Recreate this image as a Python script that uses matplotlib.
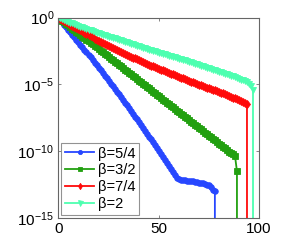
import numpy as np
import matplotlib
matplotlib.use("Agg")
import matplotlib.pyplot as plt

plt.rcParams['font.family'] = ['Liberation Sans', 'DejaVu Sans']
plt.rcParams['mathtext.default'] = 'regular'

labels = ["β=5/4", "β=3/2", "β=7/4", "β=2"]

# log10 of the plotted values, one per iteration; each series ends with a drop to 0
blue_log10 = [0, -0.18, -0.36, -0.54, -0.73, -0.91, -1.09, -1.28, -1.47, -1.65,
              -1.84, -2.03, -2.22, -2.41, -2.60, -2.79, -2.98, -3.18, -3.37, -3.56,
              -3.76, -3.96, -4.15, -4.35, -4.55, -4.75, -4.95, -5.15, -5.35, -5.56,
              -5.76, -5.96, -6.17, -6.38, -6.58, -6.79, -7.00, -7.21, -7.42, -7.63,
              -7.84, -8.05, -8.27, -8.48, -8.69, -8.91, -9.13, -9.34, -9.56, -9.78,
              -10.00, -10.22, -10.44, -10.66, -10.89, -11.11, -11.33, -11.56, -11.79, -12.05,
              -12.12, -12.15, -12.17, -12.19, -12.21, -12.23, -12.25, -12.27, -12.30, -12.32,
              -12.35, -12.38, -12.41, -12.45, -12.50, -12.56, -12.65, -12.90, -13.00]
green_log10 = [0, -0.12, -0.24, -0.35, -0.47, -0.59, -0.71, -0.83, -0.94, -1.06,
               -1.18, -1.30, -1.42, -1.53, -1.65, -1.77, -1.89, -2.01, -2.12, -2.24,
               -2.36, -2.48, -2.60, -2.71, -2.83, -2.95, -3.07, -3.19, -3.30, -3.42,
               -3.54, -3.66, -3.78, -3.89, -4.01, -4.13, -4.25, -4.37, -4.48, -4.60,
               -4.72, -4.84, -4.96, -5.07, -5.19, -5.31, -5.43, -5.55, -5.66, -5.78,
               -5.90, -6.02, -6.14, -6.25, -6.37, -6.49, -6.61, -6.73, -6.84, -6.96,
               -7.08, -7.20, -7.32, -7.43, -7.55, -7.67, -7.79, -7.91, -8.02, -8.14,
               -8.26, -8.38, -8.50, -8.61, -8.73, -8.85, -8.97, -9.09, -9.20, -9.32,
               -9.44, -9.56, -9.68, -9.80, -9.92, -10.04, -10.15, -10.24, -10.33, -11.50]
red_log10 = [0, -0.09, -0.17, -0.26, -0.35, -0.44, -0.52, -0.61, -0.70, -0.78,
             -0.87, -0.96, -1.04, -1.13, -1.22, -1.31, -1.39, -1.48, -1.57, -1.65,
             -1.74, -1.82, -1.90, -1.97, -2.05, -2.13, -2.21, -2.29, -2.36, -2.44,
             -2.52, -2.59, -2.66, -2.72, -2.79, -2.86, -2.93, -3.00, -3.06, -3.13,
             -3.20, -3.27, -3.34, -3.40, -3.47, -3.54, -3.60, -3.66, -3.72, -3.78,
             -3.84, -3.90, -3.96, -4.02, -4.08, -4.14, -4.20, -4.26, -4.32, -4.38,
             -4.44, -4.50, -4.56, -4.62, -4.68, -4.74, -4.80, -4.85, -4.91, -4.96,
             -5.02, -5.07, -5.13, -5.18, -5.24, -5.29, -5.35, -5.40, -5.46, -5.51,
             -5.57, -5.62, -5.68, -5.74, -5.80, -5.86, -5.93, -5.99, -6.05, -6.11,
             -6.18, -6.25, -6.32, -6.40, -6.50]
cyan_log10 = [0, -0.06, -0.12, -0.19, -0.25, -0.31, -0.37, -0.43, -0.50, -0.56,
              -0.62, -0.68, -0.73, -0.79, -0.84, -0.90, -0.95, -1.01, -1.06, -1.12,
              -1.17, -1.22, -1.27, -1.32, -1.37, -1.42, -1.46, -1.51, -1.56, -1.61,
              -1.66, -1.71, -1.76, -1.81, -1.86, -1.91, -1.95, -2.00, -2.05, -2.10,
              -2.15, -2.20, -2.25, -2.30, -2.35, -2.40, -2.45, -2.49, -2.54, -2.58,
              -2.63, -2.67, -2.72, -2.76, -2.81, -2.85, -2.90, -2.94, -2.99, -3.03,
              -3.08, -3.12, -3.17, -3.21, -3.26, -3.30, -3.35, -3.40, -3.45, -3.50,
              -3.55, -3.60, -3.65, -3.70, -3.74, -3.79, -3.84, -3.89, -3.94, -3.99,
              -4.04, -4.09, -4.14, -4.19, -4.23, -4.28, -4.34, -4.40, -4.46, -4.52,
              -4.58, -4.64, -4.70, -4.77, -4.85, -4.96, -5.12, -5.42]

series = [blue_log10, green_log10, red_log10, cyan_log10]
colors = ['#2747ff', '#22a010', '#ff0a0a', '#4dffb0']
markers = ['o', 's', 'd', 'v']
msizes = [4.0, 4.0, 4.3, 4.6]
legend_ms = [3.0, 3.0, 3.2, 3.6]

xticks = [0, 50, 100]
yticks = [1e0, 1e-5, 1e-10, 1e-15]
ytick_labels = ['$10^{0}$', '$10^{-5}$', '$10^{-10}$', '$10^{-15}$']

fig = plt.figure(figsize=(2.95, 2.44), dpi=100)
ax = fig.add_axes([0.198, 0.107, 0.680, 0.821])

for logs, c, m, ms, lab in zip(series, colors, markers, msizes, labels):
    y = np.append(10.0 ** np.array(logs), 0.0)
    x = np.arange(len(y))
    ax.plot(x, y, color=c, marker=m, markersize=ms, markeredgewidth=0.6,
            linewidth=1.3, label=lab)

ax.set_yscale('log', nonpositive='clip')
ax.set_xlim(0, 100)
ax.set_ylim(1e-15, 1e0)
ax.set_xticks(xticks)
ax.set_xticklabels([str(t) for t in xticks])
ax.set_yticks(yticks)
ax.set_yticklabels(ytick_labels)
ax.minorticks_off()
ax.tick_params(direction='in', length=2.5, width=0.5, colors='#555555',
               labelcolor='black', labelsize=11, top=True, right=True, pad=3)
for s in ax.spines.values():
    s.set_color('#666666')
    s.set_linewidth(0.8)

leg = ax.legend(loc='lower left', fontsize=10.5, frameon=True, fancybox=False,
                borderpad=0.25, labelspacing=0.2, handlelength=2.0,
                handletextpad=0.25, borderaxespad=0.2)
leg.get_frame().set_edgecolor('#777777')
leg.get_frame().set_linewidth(0.8)
for h, ms in zip(leg.legend_handles, legend_ms):
    h.set_markersize(ms)

fig.savefig('out.png', dpi=100)
